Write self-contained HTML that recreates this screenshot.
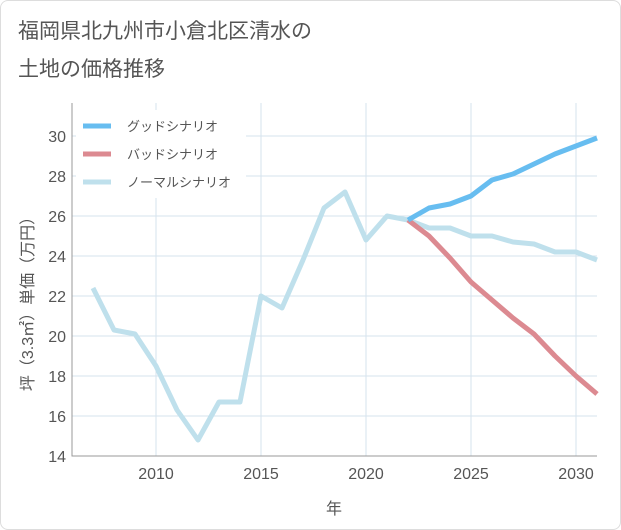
<!DOCTYPE html>
<html><head><meta charset="utf-8"><style>
body{margin:0;background:#fff;font-family:"Liberation Sans","Noto Sans CJK JP",sans-serif;}
#wrap{position:relative;width:619px;height:528px;border:1px solid #ddd;border-radius:8px;background:#fff;overflow:hidden}
</style></head><body>
<div id="wrap">
<svg id="c" width="621" height="530" style="position:absolute;left:-1px;top:-1px">
<text x="18" y="38" font-size="21" fill="#555">福岡県北九州市小倉北区清水の</text>
<text x="18" y="76" font-size="21" fill="#555">土地の価格推移</text>
</svg>
</div>
<script>
const years=[2007,2008,2009,2010,2011,2012,2013,2014,2015,2016,2017,2018,2019,2020,2021,2022,2023,2024,2025,2026,2027,2028,2029,2030,2031];
const normal=[22.4,20.3,20.1,18.5,16.3,14.8,16.7,16.7,22.0,21.4,23.8,26.4,27.2,24.8,26.0,25.8,25.4,25.4,25.0,25.0,24.7,24.6,24.2,24.2,23.8];
const fYears=[2022,2023,2024,2025,2026,2027,2028,2029,2030,2031];
const good=[25.8,26.4,26.6,27.0,27.8,28.1,28.6,29.1,29.5,29.9];
const bad=[25.8,25.0,23.9,22.7,21.8,20.9,20.1,19.0,18.0,17.1];
const xTicks=[2010,2015,2020,2025,2030];
const yTicks=[14,16,18,20,22,24,26,28,30];
const L=72,R=597,T=103,B=456;
const x=v=>156+(v-2010)*21;
const y=v=>456-(v-14)*20;
const s=document.getElementById('c');const NS='http://www.w3.org/2000/svg';
function el(t,a,txt){const e=document.createElementNS(NS,t);for(const k in a)e.setAttribute(k,a[k]);if(txt!==undefined)e.textContent=txt;s.appendChild(e);return e;}
for(const v of xTicks){const g=el('line',{x1:x(v),x2:x(v),y1:T,y2:B,stroke:'#d5e3ee'});


const t=el('text',{x:x(v),y:479,'font-size':16,fill:'#555','text-anchor':'middle'},String(v));

}
for(const v of yTicks){const g=el('line',{x1:L,x2:R,y1:y(v),y2:y(v),stroke:'#d5e3ee'});


const t=el('text',{x:66,y:y(v)+6,'font-size':16,fill:'#555','text-anchor':'end'},String(v));

}
const ax=el('path',{d:`M${L} ${T}V${B}H${R}`,stroke:'#999',fill:'none'});


function line(xs,ys,c,n){const p=el('polyline',{points:xs.map((v,i)=>x(v)+','+y(ys[i])).join(' '),fill:'none',stroke:c,'stroke-width':5,'stroke-linejoin':'round'});

}
line(years,normal,'#bfe0ec','normal-series-line');
line(fYears,bad,'#dc8a91','bad-series-line');
line(fYears,good,'#67bdf0','good-series-line');
const lb=el('rect',{x:76,y:110,width:170,height:88,fill:'#fff'});


[['グッドシナリオ','#67bdf0',126],['バッドシナリオ','#dc8a91',154],['ノーマルシナリオ','#bfe0ec',182]].forEach(([n,c,yy])=>{
const l=el('line',{x1:83,x2:111,y1:yy,y2:yy,stroke:c,'stroke-width':5});


const t=el('text',{x:127,y:yy+5,'font-size':13,fill:'#555'},n);

});
const xt=el('text',{x:334,y:514,'font-size':16,fill:'#555','text-anchor':'middle'},'年');


const yt=el('text',{x:0,y:0,'font-size':16,fill:'#555','text-anchor':'middle',transform:'translate(33,300) rotate(-90)'},'坪（3.3㎡）単価（万円）');


</script>
</body></html>
